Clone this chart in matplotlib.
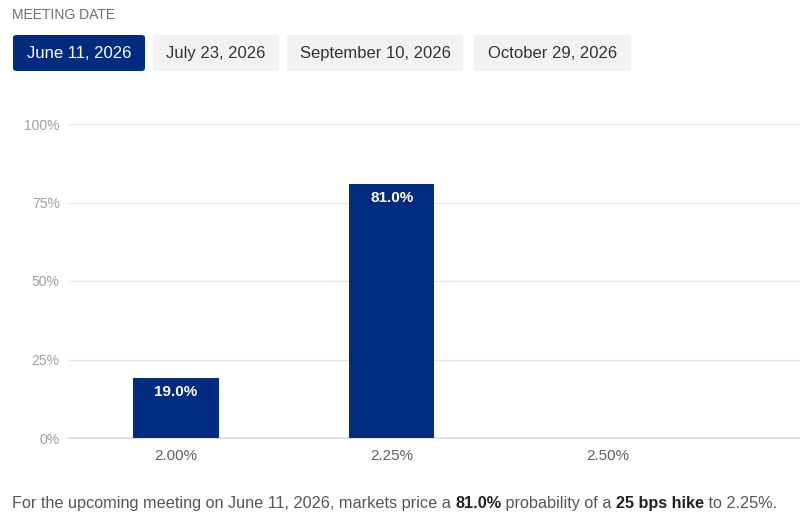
import matplotlib
matplotlib.use("Agg")
from matplotlib import pyplot as plt
from matplotlib.patches import FancyBboxPatch

plt.rcParams['font.family'] = ['Liberation Sans', 'DejaVu Sans']

# data
rates = ["2.00%", "2.25%", "2.50%"]
probs = [19.0, 81.0, 0.0]
meeting_dates = ["June 11, 2026", "July 23, 2026", "September 10, 2026", "October 29, 2026"]
y_ticks = [0, 25, 50, 75, 100]

navy = "#002b7f"

fig = plt.figure(figsize=(8, 5.24), dpi=100)
ax = fig.add_axes([0.085, 1 - 438 / 524, 0.915, 314 / 524])

x = list(range(len(rates)))
bars = ax.bar(x, probs, width=0.394, color=navy, zorder=3)
for b, p in zip(bars, probs):
    if p > 0:
        ax.text(b.get_x() + b.get_width() / 2, p - 2.2, "%.1f%%" % p,
                ha="center", va="top", color="white", fontsize=11,
                fontweight="bold", zorder=4)

ax.set_xlim(-0.5, 2.89)
ax.set_ylim(0, 100)
ax.set_yticks(y_ticks)
ax.set_yticklabels(["%d%%" % t for t in y_ticks])
ax.set_xticks(x)
ax.set_xticklabels(rates)
ax.grid(axis="y", color="#e8e8e8", linewidth=1, zorder=0)
for s in ["top", "right", "left"]:
    ax.spines[s].set_visible(False)
ax.spines["bottom"].set_color("#dcdcdc")
ax.spines["bottom"].set_linewidth(1.2)
ax.tick_params(axis="y", length=0, pad=6, labelsize=10, labelcolor="#a0a0a0")
ax.tick_params(axis="x", length=0, pad=8, labelsize=11, labelcolor="#606060")

# header
fig.text(12 / 800, 1 - 15 / 524, "MEETING DATE", fontsize=10, color="#707070",
         ha="left", va="center")
btn_x = [(13, 145), (153, 279), (287, 463), (474, 631)]
for i, (label, (x0, x1)) in enumerate(zip(meeting_dates, btn_x)):
    active = i == 0
    box = FancyBboxPatch((x0 / 800, 1 - 71 / 524), (x1 - x0) / 800, 36 / 524,
                         boxstyle="round,pad=0,rounding_size=0.005",
                         transform=fig.transFigure,
                         facecolor=navy if active else "#f1f2f4",
                         edgecolor="none")
    fig.patches.append(box)
    fig.text((x0 + x1) / 2 / 800, 1 - 58 / 524, label, fontsize=12,
             color="white" if active else "#333333", ha="center", va="baseline")

# footer
parts = [("For the upcoming meeting on June 11, 2026, markets price a ", "normal"),
         ("81.0%", "bold"), (" probability of a ", "normal"),
         ("25 bps hike", "bold"), (" to 2.25%.", "normal")]
fig.canvas.draw()
renderer = fig.canvas.get_renderer()
xpos = 12 / 800
for txt, w in parts:
    t = fig.text(xpos, 1 - 508 / 524, txt, fontsize=11.7, fontweight=w,
                 color="#222222" if w == "bold" else "#555555",
                 ha="left", va="baseline")
    bb = t.get_window_extent(renderer=renderer)
    xpos += bb.width / fig.bbox.width

fig.savefig("out.png", dpi=100)
